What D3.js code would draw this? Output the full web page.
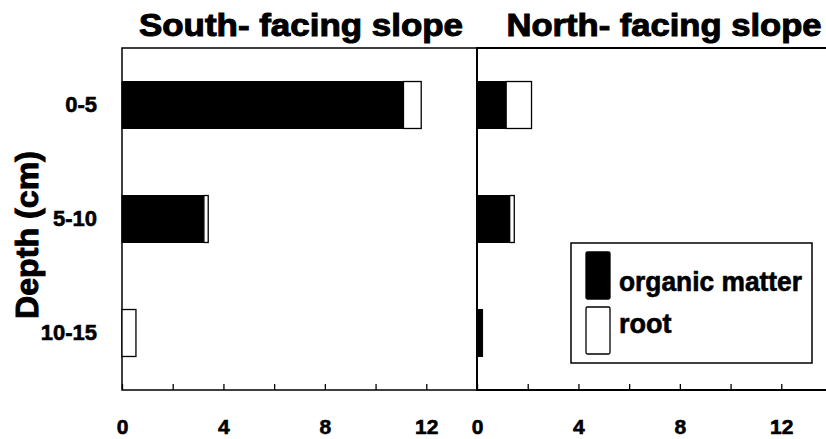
<!DOCTYPE html>
<html>
<head>
<meta charset="utf-8">
<script src="https://cdn.jsdelivr.net/npm/d3@7"></script>
<style>
  body { margin: 0; background: #fff; }
  text { font-family: "Liberation Sans", Arial, sans-serif; font-weight: bold; stroke: #000; stroke-width: 0.6px; }
</style>
</head>
<body>
<script>

var depths = ["0-5", "5-10", "10-15"];
var slopes = ["South- facing slope", "North- facing slope"];
// organic matter and root, per depth
var southOrganic = [11.1, 3.23, 0];
var southRoot = [0.7, 0.17, 0.55];
var northOrganic = [1.15, 1.29, 0.22];
var northRoot = [1.0, 0.18, 0];
var tickVals = [0, 2, 4, 6, 8, 10, 12];
var labelVals = [0, 4, 8, 12];
var legendLabels = ["organic matter", "root"];

var width = 826, height = 439;
var top_ = 48, bottom = 390;
var panelW = 355;
var panelsX = [122, 477];

var svg = d3.select("body")
  .append("svg")
  .attr("width", width)
  .attr("height", height);

var yScale = d3.scaleBand()
  .domain(depths)
  .range([top_, bottom])
  .paddingInner(0.588)
  .paddingOuter(0.294);

var panelData = [
  { title: slopes[0], organic: southOrganic, root: southRoot, titleLen: 324, titleX: 301 },
  { title: slopes[1], organic: northOrganic, root: northRoot, titleLen: 315, titleX: 664 }
];

panelData.forEach(function(p, i) {
  var x0 = panelsX[i];
  var xScale = d3.scaleLinear()
    .domain([0, 14])
    .range([x0, x0 + panelW]);

  // frame: top, left, bottom
  svg.append("path")
    .attr("d", "M" + xScale(14) + "," + top_ + "H" + x0 + "V" + bottom + "H" + xScale(14))
    .attr("fill", "none")
    .attr("stroke", "#000")
    .attr("stroke-width", i == 1 ? 2 : 1.5);

  var xAxis = svg.append("g")
    .attr("transform", "translate(0," + bottom + ")")
    .call(d3.axisBottom(xScale)
      .tickValues(tickVals)
      .tickSizeInner(-6)
      .tickSizeOuter(0)
      .tickPadding(29)
      .tickFormat(function(d) { return labelVals.indexOf(d) >= 0 ? d : ""; }));
  xAxis.select(".domain").remove();
  xAxis.selectAll("line").attr("stroke-width", 1.3);
  xAxis.selectAll("text")
    .style("font-size", "21px")
    .attr("fill", "#000");

  var rows = depths.map(function(d, j) {
    return { depth: d, organic: p.organic[j], root: p.root[j] };
  });

  svg.append("g").selectAll("rect.org")
    .data(rows)
    .enter()
    .append("rect")
    .attr("x", xScale(0))
    .attr("y", function(d) { return yScale(d.depth); })
    .attr("width", function(d) { return xScale(d.organic) - xScale(0); })
    .attr("height", yScale.bandwidth())
    .attr("fill", "#000")
    .attr("stroke", "#000")
    .attr("stroke-width", 1);

  svg.append("g").selectAll("rect.root")
    .data(rows.filter(function(d) { return d.root > 0; }))
    .enter()
    .append("rect")
    .attr("x", function(d) { return xScale(d.organic); })
    .attr("y", function(d) { return yScale(d.depth); })
    .attr("width", function(d) { return xScale(d.organic + d.root) - xScale(d.organic); })
    .attr("height", yScale.bandwidth())
    .attr("fill", "#fff")
    .attr("stroke", "#000")
    .attr("stroke-width", 1.3);

  svg.append("text")
    .attr("x", p.titleX)
    .attr("y", 36)
    .attr("text-anchor", "middle")
    .attr("textLength", p.titleLen)
    .attr("lengthAdjust", "spacingAndGlyphs")
    .style("font-size", "31px")
    .style("stroke-width", "1px")
    .text(p.title);
});

// depth labels
var yAxis = svg.append("g")
  .attr("transform", "translate(" + panelsX[0] + ",0)")
  .call(d3.axisLeft(yScale).tickSize(0).tickPadding(25));
yAxis.select(".domain").remove();
yAxis.selectAll("text")
  .style("font-size", "22px")
  .attr("fill", "#000");

svg.append("text")
  .attr("text-anchor", "middle")
  .attr("transform", "translate(38,235)rotate(-90)")
  .attr("textLength", 168)
  .attr("lengthAdjust", "spacingAndGlyphs")
  .style("font-size", "32px")
  .style("stroke-width", "1px")
  .text("Depth (cm)");

// legend
var legend = svg.append("g");
legend.append("rect")
  .attr("x", 571)
  .attr("y", 243)
  .attr("width", 241)
  .attr("height", 120)
  .attr("fill", "#fff")
  .attr("stroke", "#000")
  .attr("stroke-width", 1.5);

legendLabels.forEach(function(l, i) {
  legend.append("rect")
    .attr("x", 586)
    .attr("y", 252 + i * 55)
    .attr("width", 24)
    .attr("height", 47)
    .attr("rx", 1.5)
    .attr("fill", i == 0 ? "#000" : "#fff")
    .attr("stroke", "#000")
    .attr("stroke-width", 1.3);
  legend.append("text")
    .attr("x", 619)
    .attr("y", 291 + i * 42)
    .attr("textLength", i == 0 ? 183 : null)
    .attr("lengthAdjust", "spacingAndGlyphs")
    .style("font-size", "27px")
    .text(l);
});

</script>
</body>
</html>
